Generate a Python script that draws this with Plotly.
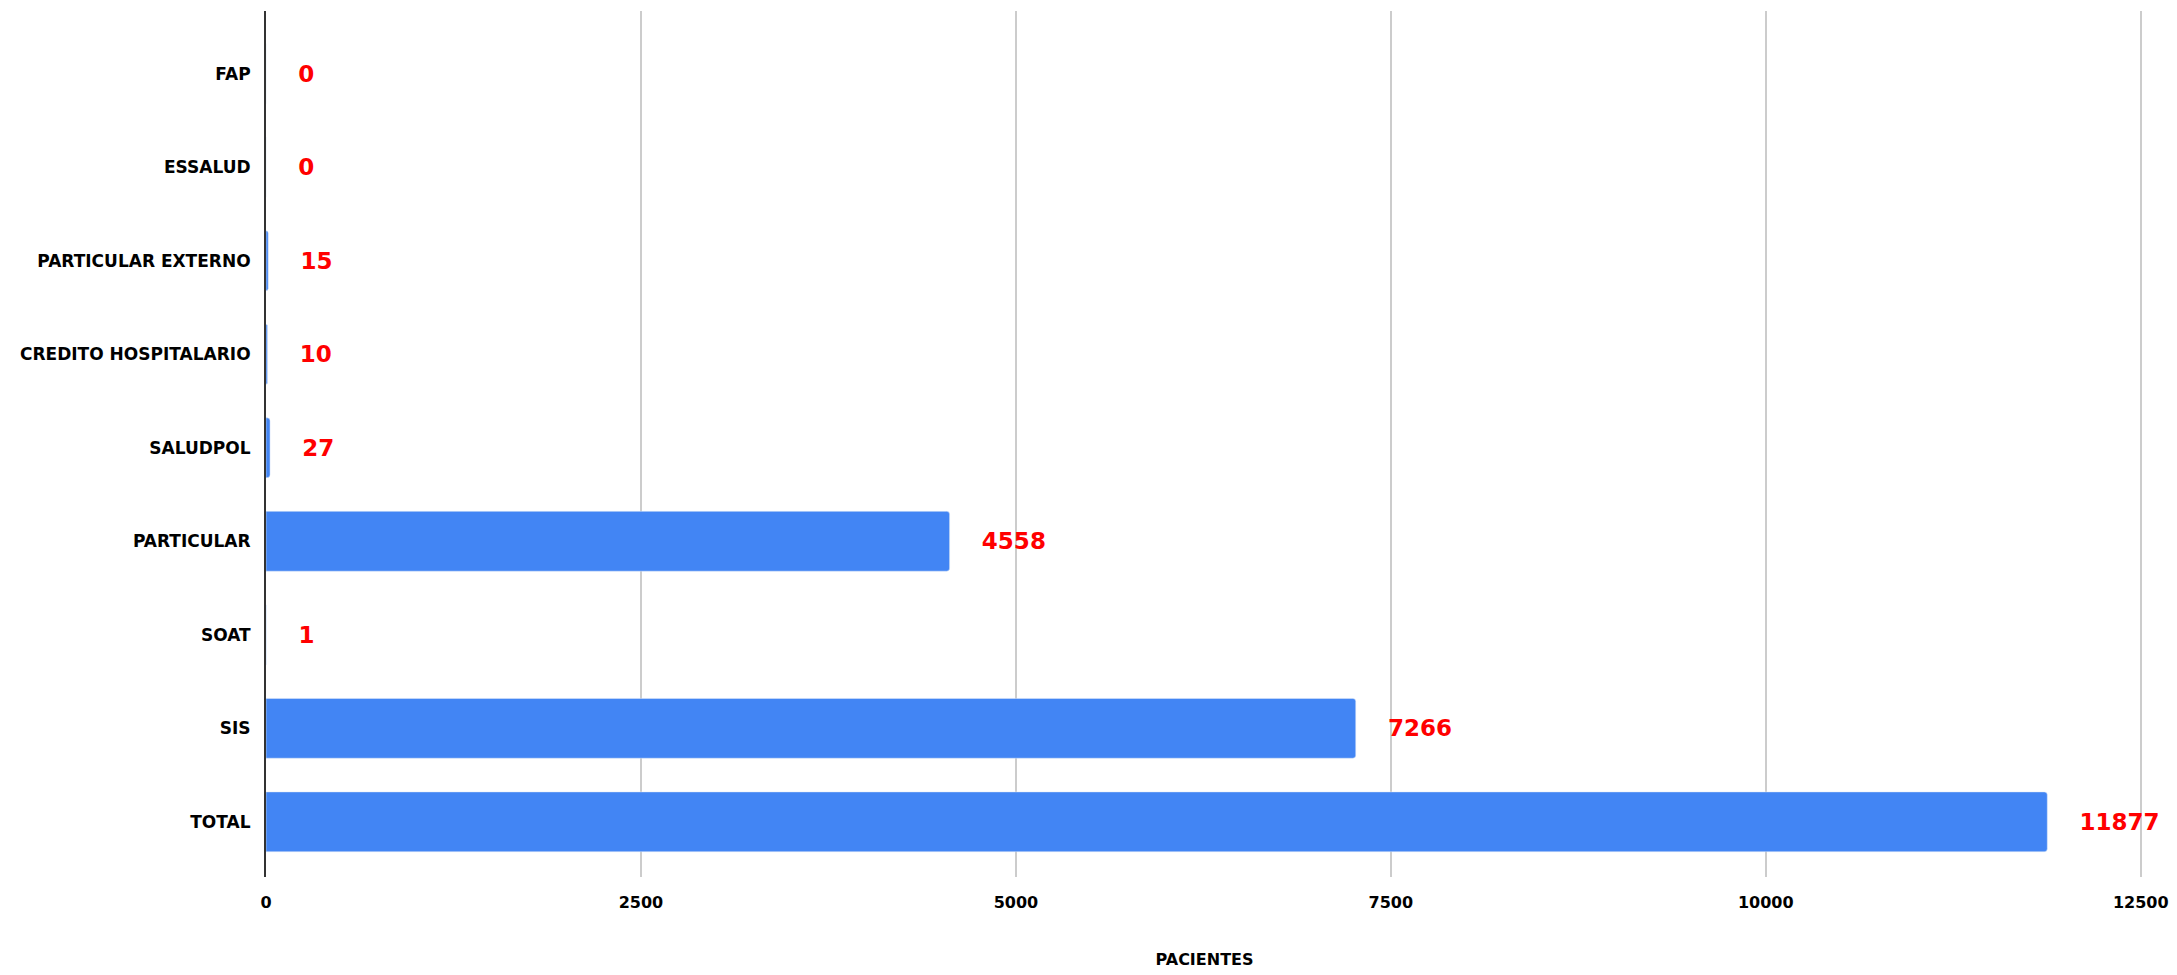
import plotly.graph_objects as go

categorias = ["TOTAL", "SIS", "SOAT", "PARTICULAR", "SALUDPOL",
              "CREDITO HOSPITALARIO", "PARTICULAR EXTERNO", "ESSALUD", "FAP"]
pacientes = [11877, 7266, 1, 4558, 27, 10, 15, 0, 0]
ticks_x = [0, 2500, 5000, 7500, 10000, 12500]

fig = go.Figure(go.Bar(
    y=categorias, x=pacientes, orientation="h",
    marker=dict(color="#4285f4", cornerradius=3),
    width=0.64,
    text=pacientes, texttemplate="    <b>%{x:d}</b>", textposition="outside",
    textfont=dict(color="#ff0000", size=23, family="DejaVu Sans"),
    cliponaxis=False,
))
fig.update_layout(
    width=2177, height=975,
    margin=dict(l=258, r=42, t=3, b=106),
    plot_bgcolor="white", paper_bgcolor="white",
    font=dict(family="DejaVu Sans", color="#000000"),
    showlegend=False,
    xaxis=dict(range=[0, 12515], tickvals=ticks_x, tickformat="d", showgrid=True,
               gridcolor="#cccccc", gridwidth=1.5, zeroline=False, automargin=False,
               ticklabelstandoff=14,
               tickfont=dict(size=16, family="DejaVu Sans", weight="bold"),
               title=dict(text="<b>PACIENTES</b>", font=dict(size=16), standoff=42)),
    yaxis=dict(showline=True, linecolor="#333333", linewidth=2, automargin=False,
               range=[-0.59, 8.67],
               ticks="", ticklabelstandoff=10,
               tickfont=dict(size=17, family="DejaVu Sans", weight="bold")),
)
fig.write_html("out.html")
